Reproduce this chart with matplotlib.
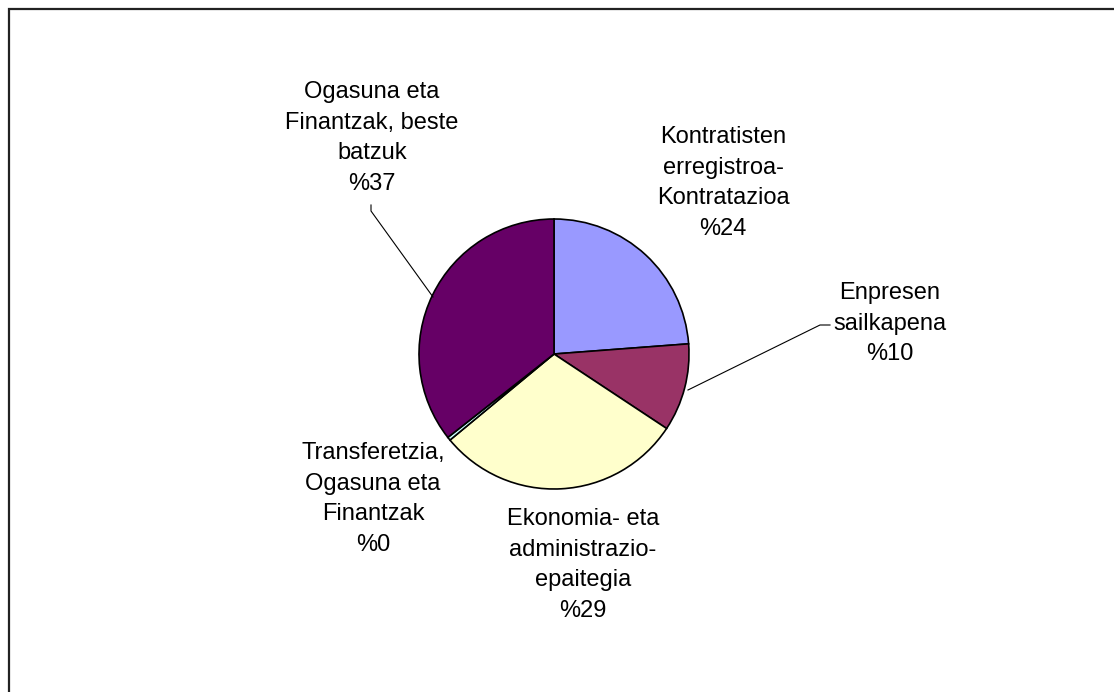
import matplotlib.pyplot as plt
from matplotlib.patches import Rectangle

plt.rcParams['font.family'] = ['Liberation Sans', 'DejaVu Sans']

labels = ['Kontratisten\nerregistroa-\nKontratazioa',
          'Enpresen\nsailkapena',
          'Ekonomia- eta\nadministrazio-\nepaitegia',
          'Transferetzia,\nOgasuna eta\nFinantzak',
          'Ogasuna eta\nFinantzak, beste\nbatzuk']
shares = [23.8, 10.5, 29.7, 0.4, 35.6]
pct_text = ['%24', '%10', '%29', '%0', '%37']
colors = ['#9999FF', '#993366', '#FFFFCC', '#CCFFFF', '#660066']

W, H = 1114, 692
fig = plt.figure(figsize=(W / 100, H / 100), dpi=100)
ax = fig.add_axes([0, 0, 1, 1])
ax.set_xlim(0, W)
ax.set_ylim(0, H)
ax.set_aspect('equal')
ax.axis('off')

# outer chart frame (runs off the right and bottom edges)
ax.add_patch(Rectangle((9, -20), W + 20, H - 9 + 20, fill=False,
                       edgecolor='#222222', lw=1.6))

ax.pie(shares, colors=colors, startangle=90, counterclock=False,
       center=(554, H - 354), radius=135,
       wedgeprops=dict(edgecolor='black', linewidth=1.2))
ax.set_xlim(0, W)
ax.set_ylim(0, H)

# label positions (pixel coords, top-left origin)
label_pos = [(723, 183), (890, 324), (583, 565), (373, 499), (372, 138)]
for lab, pct, (x, y) in zip(labels, pct_text, label_pos):
    ax.text(x, H - y, lab + '\n' + pct, ha='center', va='center',
            multialignment='center', fontsize=17, linespacing=1.5)

# leader lines
ax.plot([688, 820, 830], [H - 390, H - 325, H - 325], color='black', lw=0.8)
ax.plot([371, 371, 433], [H - 205, H - 211, H - 297], color='black', lw=0.8)

fig.savefig('out.png', dpi=100)
